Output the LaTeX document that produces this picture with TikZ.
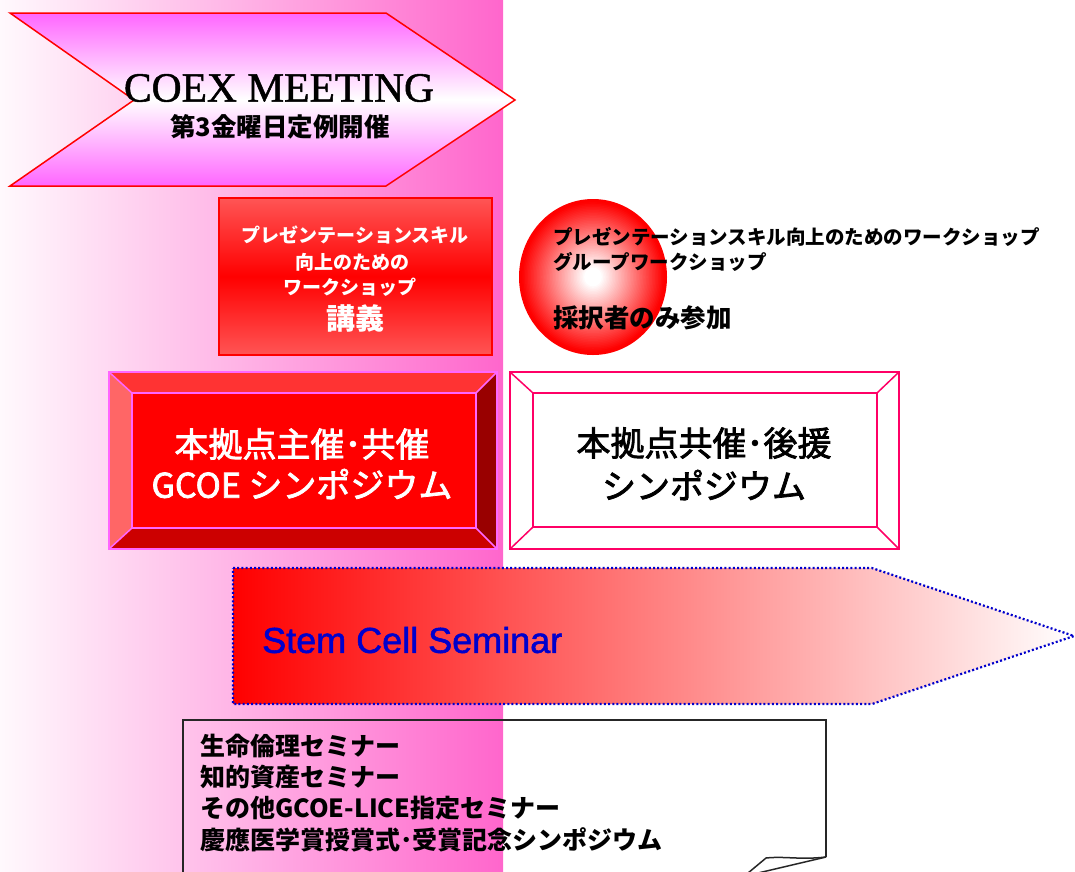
\documentclass[tikz,border=0pt]{standalone}
\usepackage{fontspec}
\setmainfont{Liberation Serif}
\newfontfamily\timesfb[FakeBold=1.2]{Liberation Serif}
\newfontfamily\jp{Noto Sans CJK JP}
\newfontfamily\jpm[FakeBold=2.2]{Noto Sans CJK JP}
\newfontfamily\arialf[FakeBold=1.5]{Liberation Sans}
\definecolor{bandpink}{HTML}{FF66CC}
\definecolor{chevmag}{HTML}{FF66FF}
\definecolor{lightred}{HTML}{FF5555}
\definecolor{bevtop}{HTML}{FF3333}
\definecolor{bevleft}{HTML}{FF6666}
\definecolor{bevright}{HTML}{990000}
\definecolor{bevbot}{HTML}{CC0000}
\definecolor{bevedge}{HTML}{FF66FF}
\definecolor{crimson}{HTML}{FF0066}
\definecolor{semblue}{HTML}{0000CC}
\tikzset{
  jptext/.style={inner sep=0pt, font=\jp},
  bevline/.style={draw=bevedge, line width=1.5pt},
  bevline2/.style={draw=crimson, line width=1.5pt},
}
\begin{document}
\begin{tikzpicture}[x=1pt,y=-1pt]
\useasboundingbox (0,0) rectangle (1075,871);
% background band
\shade[left color=white!96!bandpink, right color=bandpink] (0,0) rectangle (503,871);

% COEX chevron
\shade[top color=chevmag, bottom color=chevmag, middle color=white]
  (10,13) -- (386,13) -- (515,100) -- (386,186) -- (10,186) -- (134,100) -- cycle;
\draw[red, line width=1.5pt]
  (10,13) -- (386,13) -- (515,100) -- (386,186) -- (10,186) -- (134,100) -- cycle;
\node[inner sep=0pt, font=\timesfb\fontsize{41.5}{43}\selectfont] (coex) at (279,88) {COEX MEETING};
\node[jptext, font=\jp\bfseries\fontsize{25.5}{27}\selectfont] (coexsub) at (280,127) {第3金曜日定例開催};

% workshop box
\shade[top color=lightred, bottom color=lightred, middle color=red] (219,198) rectangle (492,355);
\draw[red, line width=1.5pt] (219,198) rectangle (492,355);
\node[jptext, text=white, font=\jp\bfseries\fontsize{19}{20}\selectfont] (ws1) at (355,235) {プレゼンテーションスキル};
\node[jptext, text=white, font=\jp\bfseries\fontsize{19}{20}\selectfont] (ws2) at (352,262) {向上のための};
\node[jptext, text=white, font=\jp\bfseries\fontsize{19}{20}\selectfont] (ws3) at (350,287) {ワークショップ};
\node[jptext, text=white, font=\jp\bfseries\fontsize{29}{30}\selectfont] (ws4) at (355,318) {講義};

% sphere (concentric rings)
\foreach \k in {0,...,50}{
  \pgfmathsetmacro\t{1-\k/50}
  \pgfmathsetmacro\p{min(100,max(0,(\t-0.12)/0.85*100))}
  \fill[red!\p!white] (593,277) ellipse [x radius=74*\t, y radius=78*\t];
}
\node[jptext, anchor=west, font=\jp\bfseries\fontsize{19.5}{20}\selectfont] (sp1) at (553,237) {プレゼンテーションスキル向上のためのワークショップ};
\node[jptext, anchor=west, font=\jp\bfseries\fontsize{19.5}{20}\selectfont] (sp2) at (553,262) {グループワークショップ};
\node[jptext, anchor=west, font=\jp\bfseries\fontsize{25.5}{27}\selectfont] (sp3) at (553,318) {採択者のみ参加};

% bevel box 1
\fill[bevtop] (109,372) -- (497,372) -- (476,393) -- (132,393) -- cycle;
\fill[bevleft] (109,372) -- (132,393) -- (132,528) -- (109,549) -- cycle;
\fill[bevright] (497,372) -- (497,549) -- (476,528) -- (476,393) -- cycle;
\fill[bevbot] (109,549) -- (497,549) -- (476,528) -- (132,528) -- cycle;
\fill[red] (132,393) rectangle (476,528);
\draw[bevline] (109,372) rectangle (497,549);
\draw[bevline] (132,393) rectangle (476,528);
\draw[bevline] (109,372) -- (132,393) (497,372) -- (476,393) (497,549) -- (476,528) (109,549) -- (132,528);
\node[jptext, text=white, font=\jpm\fontsize{34}{36}\selectfont] (sym1a) at (302,444) {本拠点主催･共催};
\node[jptext, text=white, font=\jpm\fontsize{34}{36}\selectfont] (sym1b) at (302,484) {GCOE シンポジウム};

% bevel box 2
\fill[white] (510,372) rectangle (899,549);
\draw[bevline2] (510,372) rectangle (899,549);
\draw[bevline2] (533,393) rectangle (877,527);
\draw[bevline2] (510,372) -- (533,393) (899,372) -- (877,393) (899,549) -- (877,527) (510,549) -- (533,527);
\node[jptext, font=\jpm\fontsize{34}{36}\selectfont] (sym2a) at (704,443) {本拠点共催･後援};
\node[jptext, font=\jpm\fontsize{34}{36}\selectfont] (sym2b) at (704,485) {シンポジウム};

% stem cell arrow
\shade[left color=red, right color=white] (233,568) -- (872,568) -- (1075,636) -- (872,704) -- (233,704) -- cycle;
\draw[semblue, line width=2.2pt, dash pattern=on 2pt off 2.2pt]
  (233,568) -- (872,568) -- (1074,636) -- (872,704) -- (233,704) -- cycle;
\node[inner sep=0pt, anchor=west, text=semblue, font=\arialf\fontsize{36}{38}\selectfont] (stem) at (262,640) {Stem Cell Seminar};

% bottom note box with curl
\draw[black!85, line width=1.5pt] (183,875) -- (183,720) -- (826,720) -- (826,857);
\draw[black!85, line width=1.5pt] (826,857) .. controls (800,860) and (785,856) .. (766,858) -- (748,873);
\draw[black!85, line width=1.5pt] (826,857) -- (758,873);
\node[jptext, anchor=west, font=\jp\bfseries\fontsize{25}{26}\selectfont] (n1) at (200,746) {生命倫理セミナー};
\node[jptext, anchor=west, font=\jp\bfseries\fontsize{25}{26}\selectfont] (n2) at (200,777) {知的資産セミナー};
\node[jptext, anchor=west, font=\jp\bfseries\fontsize{25}{26}\selectfont] (n3) at (200,808) {その他GCOE-LICE指定セミナー};
\node[jptext, anchor=west, font=\jp\bfseries\fontsize{25}{26}\selectfont] (n4) at (200,840) {慶應医学賞授賞式･受賞記念シンポジウム};
\end{tikzpicture}
\end{document}
